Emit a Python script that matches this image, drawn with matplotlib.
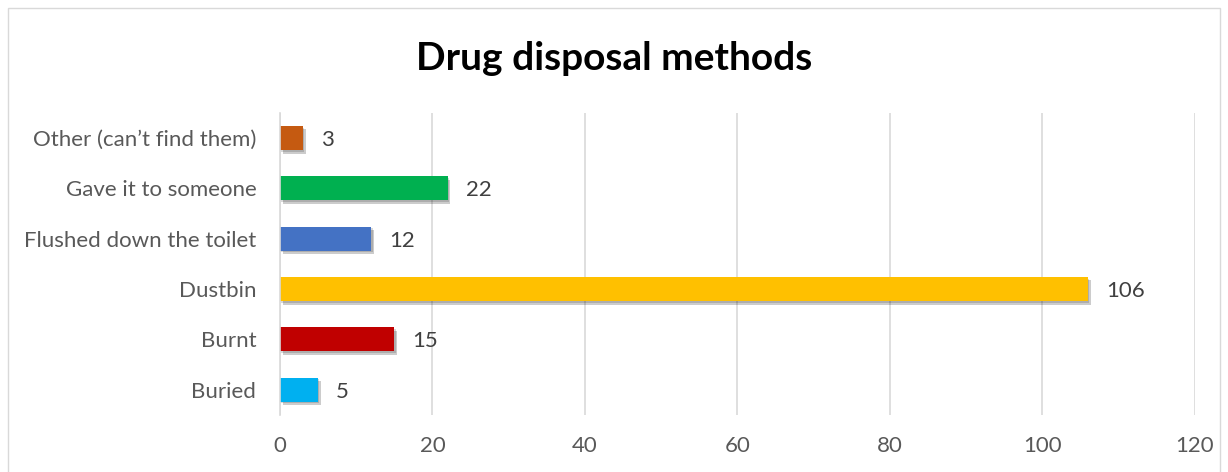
import matplotlib.pyplot as plt
import matplotlib.patheffects as pe
from matplotlib.patches import Rectangle

# data, bottom to top
methods = ["Buried", "Burnt", "Dustbin", "Flushed down the toilet",
           "Gave it to someone", "Other (can\u2019t find them)"]
counts = [5, 15, 106, 12, 22, 3]
colors = ["#00B0F0", "#C00000", "#FFC000", "#4472C4", "#00B050", "#C55A11"]
x_ticks = [0, 20, 40, 60, 80, 100, 120]

plt.rcParams["font.family"] = ["Lato", "DejaVu Sans"]
text_color = "#595959"

fig = plt.figure(figsize=(12.28, 4.72), dpi=100)
ax = fig.add_axes([0.228, 0.121, 0.745, 0.640])

# soft drop shadow like Excel
shadow = [pe.SimplePatchShadow(offset=(2, -2.5), shadow_rgbFace="black", alpha=0.2),
          pe.SimplePatchShadow(offset=(1, -1.2), shadow_rgbFace="black", alpha=0.15),
          pe.Normal()]
bars = ax.barh(range(len(methods)), counts, height=0.48, color=colors, zorder=3)
for b in bars:
    b.set_path_effects(shadow)

for i, v in enumerate(counts):
    ax.annotate(str(v), (v, i), xytext=(13, 0), textcoords="offset points",
                va="center_baseline", ha="left", fontsize=16, color="#404040")

ax.set_xlim(0, 120)
ax.set_ylim(-0.5, len(methods) - 0.5)
ax.set_xticks(x_ticks)
ax.set_yticks(range(len(methods)))
ax.set_yticklabels(methods)
ax.tick_params(axis="both", length=0, labelsize=16, colors=text_color)
ax.tick_params(axis="x", pad=15)
ax.tick_params(axis="y", pad=17)
ax.grid(axis="x", color="#D9D9D9", linewidth=1.2, zorder=0)
for s in ["top", "right", "bottom"]:
    ax.spines[s].set_visible(False)
ax.spines["left"].set_color("#D9D9D9")
ax.spines["left"].set_linewidth(1.2)
ax.spines["left"].set_zorder(4)

fig.text(0.5, 0.877, "Drug disposal methods", ha="center", va="center",
         fontsize=28, fontweight="bold", color="black")

fig.patches.append(Rectangle((0.0065, -0.02), 0.987, 1.003, transform=fig.transFigure,
                             fill=False, edgecolor="#D9D9D9", linewidth=1))

fig.savefig("out.png", dpi=100)
